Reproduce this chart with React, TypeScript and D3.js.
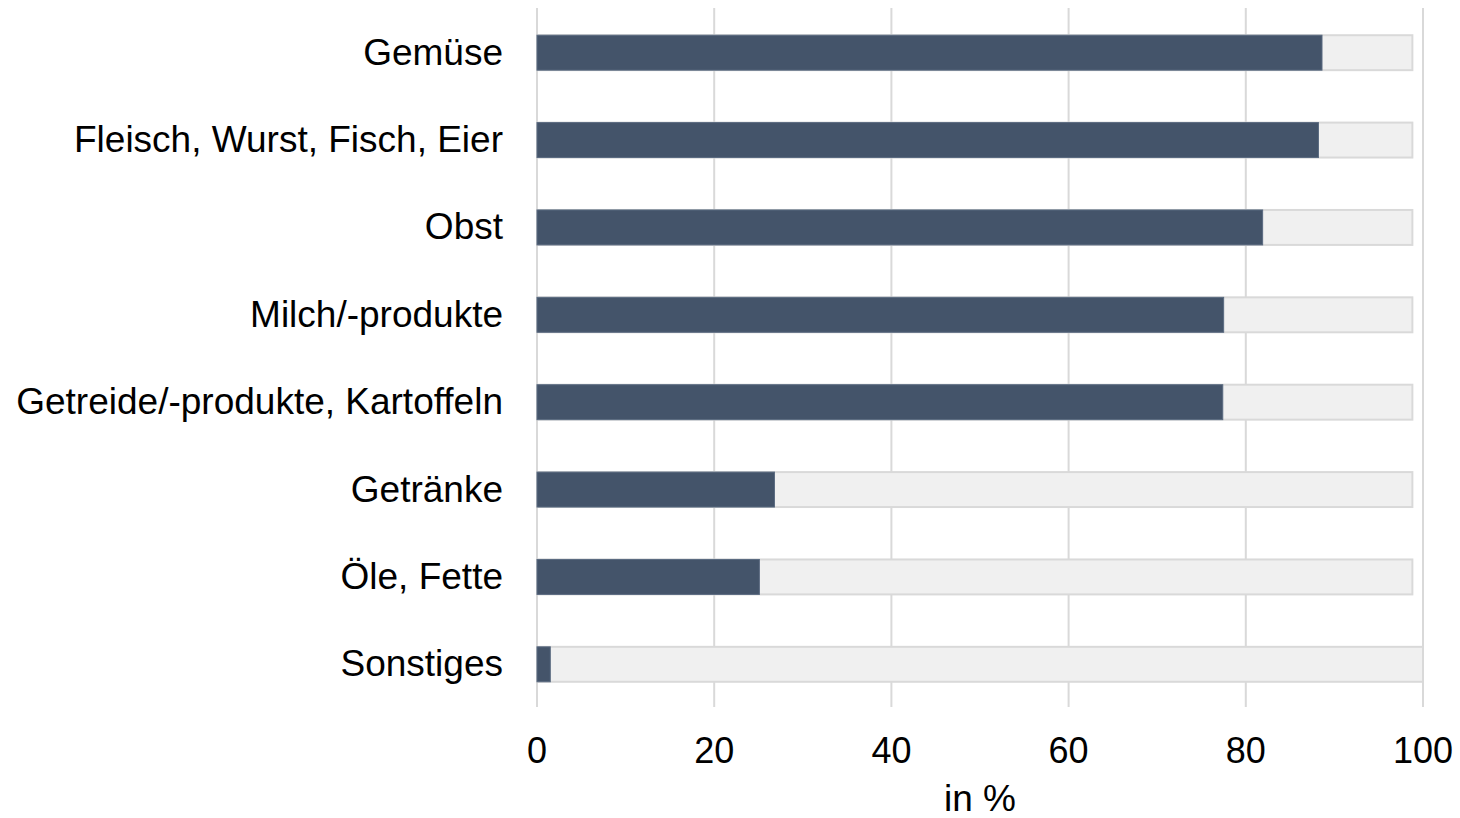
import React from "react";
import * as d3 from "d3";

const categories = [
  "Gemüse",
  "Fleisch, Wurst, Fisch, Eier",
  "Obst",
  "Milch/-produkte",
  "Getreide/-produkte, Kartoffeln",
  "Getränke",
  "Öle, Fette",
  "Sonstiges",
];
const values = [88.6, 88.2, 81.9, 77.5, 77.4, 26.8, 25.1, 1.5];
const totals = [98.8, 98.8, 98.8, 98.8, 98.8, 98.8, 98.8, 100];
const xTicks = [0, 20, 40, 60, 80, 100];
const xTitle = "in %";

export default function App() {
  const W = 1460, H = 818;
  const x = d3.scaleLinear().domain([0, 100]).range([537, 1423]);
  const y = d3.scaleBand().domain(categories).range([9, 708]).paddingInner(0.6).paddingOuter(0.3);
  const font = "Arial, 'Liberation Sans', sans-serif";
  return (
    <svg width={W} height={H} style={{ position: "absolute", left: 0, top: 0, background: "#fff" }}>
      {xTicks.map((t) => (
        <line key={"g" + t} x1={x(t)} x2={x(t)} y1={8} y2={707} stroke="#d9d9d9" strokeWidth={2} />
      ))}
      {categories.map((c, i) => (
        <g key={c}>
          <rect x={x(0)} y={y(c)!} width={x(totals[i]) - x(0)} height={y.bandwidth()} fill="#f0f0f0" stroke="#d9d9d9" strokeWidth={2} />
          <rect x={x(0)} y={y(c)!} width={x(values[i]) - x(0)} height={y.bandwidth()} fill="#44546a" stroke="#5a6a80" strokeWidth={1} />
          <text x={503} y={y(c)! + y.bandwidth() / 2 + 12} textAnchor="end" fontFamily={font} fontSize={37} fill="#000">{c}</text>
        </g>
      ))}
      {xTicks.map((t) => (
        <text key={"t" + t} x={x(t)} y={763} textAnchor="middle" fontFamily={font} fontSize={36} fill="#000">{t}</text>
      ))}
      <text x={980} y={811} textAnchor="middle" fontFamily={font} fontSize={37} fill="#000">{xTitle}</text>
    </svg>
  );
}
